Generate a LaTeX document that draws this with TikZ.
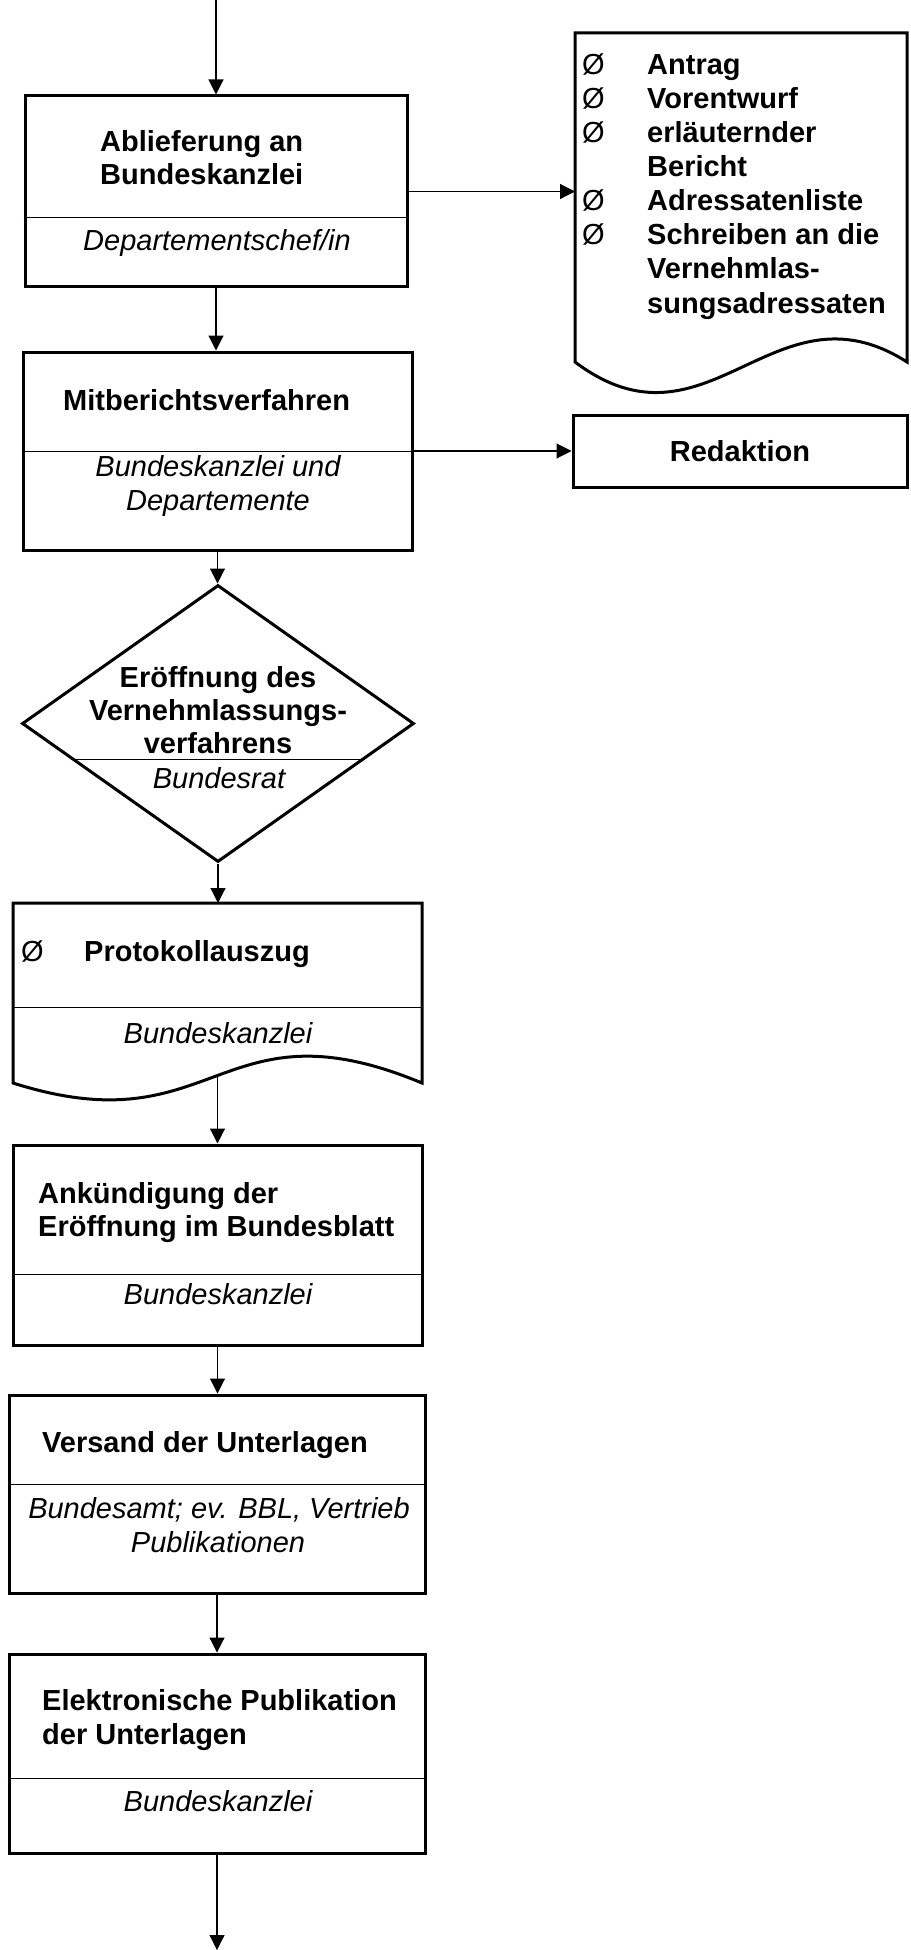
\documentclass[tikz,border=0pt]{standalone}
\usepackage{fontspec}
\setmainfont{Liberation Sans}
\usetikzlibrary{arrows.meta,shapes.geometric,calc}
\newcommand\txtsize{\fontsize{29}{34}\selectfont}
\tikzset{
  stepbox/.style={draw, line width=3pt, inner sep=0pt},
  frame/.style={inner sep=0pt, outer sep=0pt},
  outline/.style={line width=3pt, line join=miter},
  flow/.style={line width=1.1pt, -{Triangle[length=15pt,width=15pt]}},
  divider/.style={line width=1pt},
  title/.style={font=\txtsize\bfseries, anchor=base west, inner sep=0pt},
  who/.style={font=\txtsize\itshape, anchor=base, inner sep=0pt},
  bullet/.style={font=\txtsize, anchor=base west, inner sep=0pt},
}
\begin{document}
\begin{tikzpicture}[x=1pt,y=-1pt]
\useasboundingbox (0,0) rectangle (910,1950);

% --- Ablieferung an Bundeskanzlei
\node[stepbox, minimum width=382pt, minimum height=191pt] (abl) at (216,191.5) {};
\draw[divider] ([yshift=-26.5pt]abl.west) -- ([yshift=-26.5pt]abl.east);
\node[title] (ablA) at (100,152) {Ablieferung an};
\node[title] (ablB) at (100,185) {Bundeskanzlei};
\node[who] (ablW) at (217,251) {Departementschef/in};

% --- Documents handed over
\node[frame, minimum width=332pt, minimum height=329pt] (doc) at (741,197.5) {};
\draw[outline] (doc.south west) -- (doc.north west) -- (doc.north east) -- (doc.south east)
  .. controls ($(doc.south)+(33,-85)$) and ($(doc.south)+(-33,100)$) .. (doc.south west) -- cycle;
\node[bullet] (docB1) at (582,75) {Ø};
\node[title]  (docT1) at (647,75) {Antrag};
\node[bullet] (docB2) at (582,109) {Ø};
\node[title]  (docT2) at (647,109) {Vorentwurf};
\node[bullet] (docB3) at (582,143) {Ø};
\node[title]  (docT3) at (647,143) {erläuternder};
\node[title]  (docT4) at (647,177) {Bericht};
\node[bullet] (docB5) at (582,211) {Ø};
\node[title]  (docT5) at (647,211) {Adressatenliste};
\node[bullet] (docB6) at (582,245) {Ø};
\node[title]  (docT6) at (647,245) {Schreiben an die};
\node[title]  (docT7) at (647,279) {Vernehmlas-};
\node[title]  (docT8) at (647,313) {sungsadressaten};

% --- Mitberichtsverfahren
\node[stepbox, minimum width=389pt, minimum height=198pt] (mit) at (217.5,451) {};
\draw[divider] (mit.west) -- (mit.east);
\node[title] (mitA) at (63,410) {Mitberichtsverfahren};
\node[who] (mitW1) at (218,476) {Bundeskanzlei und};
\node[who] (mitW2) at (218,510) {Departemente};

% --- Redaktion
\node[stepbox, minimum width=334pt, minimum height=72pt, font=\txtsize\bfseries] (red) at (740,451) {Redaktion};

% --- Eröffnung des Vernehmlassungsverfahrens
\node[diamond, draw, line width=3pt, inner sep=0pt, minimum width=392pt, minimum height=277pt] (dia) at (218,723.5) {};
\draw[divider] ($(dia.west)!0.256!(dia.south)$) -- ($(dia.east)!0.256!(dia.south)$);
\node[who, font=\txtsize\bfseries] (diaA) at (218,687) {Eröffnung des};
\node[who, font=\txtsize\bfseries] (diaB) at (218,720) {Vernehmlassungs-};
\node[who, font=\txtsize\bfseries] (diaC) at (218,753) {verfahrens};
\node[who] (diaW) at (219,788) {Bundesrat};

% --- Protokollauszug
\node[frame, minimum width=409pt, minimum height=180pt] (prot) at (217.5,993) {};
\draw[outline] (prot.south west) -- (prot.north west) -- (prot.north east) -- (prot.south east)
  .. controls ($(prot.south)+(0,-85)$) and ($(prot.south)+(0,65)$) .. (prot.south west) -- cycle;
\draw[divider] ([yshift=-14pt]prot.west) -- ([yshift=-14pt]prot.east);
\node[bullet] (protB) at (21,961) {Ø};
\node[title] (protA) at (84,961) {Protokollauszug};
\node[who] (protW) at (218,1043) {Bundeskanzlei};

% --- Ankündigung der Eröffnung im Bundesblatt
\node[stepbox, minimum width=409pt, minimum height=200pt] (ank) at (217.5,1245) {};
\draw[divider] ([yshift=-29pt]ank.west) -- ([yshift=-29pt]ank.east);
\node[title] (ankA) at (38,1203) {Ankündigung der};
\node[title] (ankB) at (38,1236) {Eröffnung im Bundesblatt};
\node[who] (ankW) at (218,1304) {Bundeskanzlei};

% --- Versand der Unterlagen
\node[stepbox, minimum width=416pt, minimum height=198pt] (ver) at (217,1494) {};
\draw[divider] ([yshift=10pt]ver.west) -- ([yshift=10pt]ver.east);
\node[title] (verA) at (42,1452) {Versand der Unterlagen};
\node[who] (verW1) at (219,1518) {Bundesamt; ev. BBL, Vertrieb};
\node[who] (verW2) at (218,1552) {Publikationen};

% --- Elektronische Publikation der Unterlagen
\node[stepbox, minimum width=416pt, minimum height=199pt] (ele) at (217,1753.5) {};
\draw[divider] ([yshift=-24.5pt]ele.west) -- ([yshift=-24.5pt]ele.east);
\node[title] (eleA) at (42,1710) {Elektronische Publikation};
\node[title] (eleB) at (42,1744) {der Unterlagen};
\node[who] (eleW) at (218,1811) {Bundeskanzlei};

% --- connectors
\coordinate (in) at (216,0);
\coordinate (out) at (217,1950);
\draw[flow] (in) -- (in |- abl.north);
\draw[flow] (abl.south) -- (abl.south |- mit.north);
\draw[flow] (abl.east) -- (abl.east -| doc.west);
\draw[flow] (mit.east) -- (mit.east -| red.west);
\draw[flow] (mit.south) -- (mit.south |- dia.north);
\draw[flow] (dia.south) -- (dia.south |- prot.north);
\draw[flow] ($(prot.south)+(0,-8)$) -- (prot.south |- ank.north);
\draw[flow] (ank.south) -- (ank.south |- ver.north);
\draw[flow] (ver.south) -- (ver.south |- ele.north);
\draw[flow] (ele.south) -- (ele.south |- out);
\end{tikzpicture}
\end{document}
